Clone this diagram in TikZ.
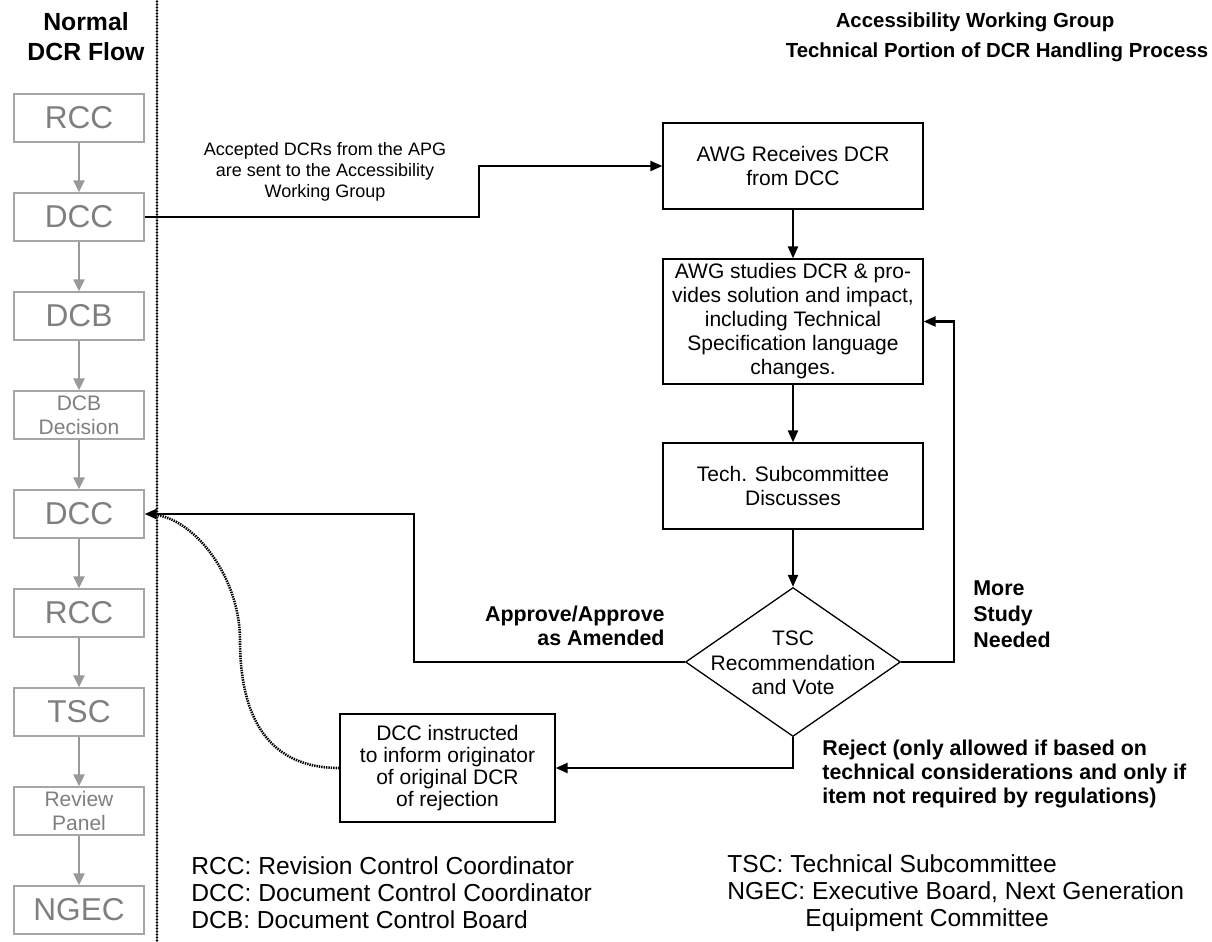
\documentclass[tikz,border=0pt]{standalone}
\usepackage{fontspec}
\setmainfont{Liberation Sans}
\usetikzlibrary{arrows.meta,shapes.geometric}
\definecolor{boxgray}{HTML}{A6A6A6}
\definecolor{textgray}{HTML}{7F7F7F}
\definecolor{arrgray}{HTML}{999999}
\begin{document}
\begin{tikzpicture}[x=0.5pt,y=-0.5pt,
 gbox/.style={draw=boxgray, line width=0.65pt, minimum width=65pt, minimum height=24pt, inner sep=0pt, text=textgray, font=\fontsize{15.8}{17}\selectfont},
 gsmall/.style={gbox, font=\fontsize{10.5}{12}\selectfont, align=center},
 garrow/.style={draw=arrgray, line width=1.1pt, -{Triangle[length=6pt,width=5.5pt]}},
 box/.style={draw, line width=0.65pt, inner sep=0pt, align=center, font=\fontsize{10.5}{12}\selectfont},
 arr/.style={line width=1.1pt, -{Triangle[length=6pt,width=5pt]}},
 lbl/.style={font=\bfseries\fontsize{10.7}{11.8}\selectfont, inner sep=0pt},
 plain/.style={inner sep=0pt},
 sepdot/.style={fill=black},
 finedots/.style={line width=1.3pt, dash pattern=on 0.7pt off 0.5pt},
]
\useasboundingbox (0,0) rectangle (1212,942);

% separator (row of round dots)
\coordinate (dtop) at (157,0);
\foreach \i in {0,...,313} {\fill[sepdot] (157,{1.5+\i*3}) circle[radius=0.72pt];}

% headers
\node[plain, font=\bfseries\fontsize{12.4}{15}\selectfont, align=center] (hl) at (86,37) {Normal\\DCR Flow};
\node[plain, font=\bfseries\fontsize{10.2}{15}\selectfont] (hr1) at (975,22) {Accessibility Working Group};
\node[plain, font=\bfseries\fontsize{10.2}{15}\selectfont] (hr2) at (997,52) {Technical Portion of DCR Handling Process};

% normal flow column
\node[gbox] (g1) at (79,118) {RCC};
\node[gbox] (g2) at (79,217) {DCC};
\node[gbox] (g3) at (79,316) {DCB};
\node[gsmall] (g4) at (79,415) {DCB\\Decision};
\node[gbox] (g5) at (79,514) {DCC};
\node[gbox] (g6) at (79,613) {RCC};
\node[gbox] (g7) at (79,712) {TSC};
\node[gsmall] (g8) at (79,811) {Review\\Panel};
\node[gbox] (g9) at (79,910) {NGEC};
\foreach \a/\b in {g1/g2,g2/g3,g3/g4,g4/g5,g5/g6,g6/g7,g7/g8,g8/g9}
  \draw[garrow] (\a) -- (\b);

% AWG process
\node[box, minimum width=130pt, minimum height=43pt] (recv) at (793,166) {AWG Receives DCR\\from DCC};
\node[box, minimum width=130pt, minimum height=62.5pt] (study) at (793,321.5) {AWG studies DCR \& pro-\\vides solution and impact,\\including Technical\\Specification language\\changes.};
\node[box, minimum width=130pt, minimum height=43pt] (tech) at (793,486) {Tech. Subcommittee\\Discusses};
\node[draw, diamond, line width=0.65pt, minimum width=107.5pt, minimum height=74.5pt, inner sep=0pt] (tsc) at (793,662) {};
\node[plain, font=\fontsize{10.5}{12.3}\selectfont, align=center] (tsct) at (793,663) {TSC\\Recommendation\\and Vote};
\node[box, minimum width=107.5pt, minimum height=54pt, font=\fontsize{10.5}{11}\selectfont] (rej) at (447.5,768) {DCC instructed\\to inform originator\\of original DCR\\of rejection};

% labels
\node[plain, font=\fontsize{9}{10.5}\selectfont, align=center] (acc) at (325,172) {Accepted DCRs from the APG\\are sent to the Accessibility\\Working Group};
\node[lbl, align=right, anchor=east] (appr) at (665,626) {Approve/Approve\\as Amended};
\node[lbl, align=left, anchor=west, font=\bfseries\fontsize{10.7}{13}\selectfont] (more) at (973,614) {More\\Study\\Needed};
\node[lbl, align=left, anchor=west] (rjl) at (822,774) {Reject (only allowed if based on\\technical considerations and only if\\item not required by regulations)};

% connectors
\coordinate (j1) at (479,217);
\draw[arr] (g2.east) -- (j1) |- (recv.west);
\draw[arr] (recv) -- (study);
\draw[arr] (study) -- (tech);
\draw[arr] (tech) -- (tsc.north);
\coordinate (j2) at (414,662);
\draw[arr] (tsc.west) -- (j2) |- (g5.east);
\coordinate (j3) at (954,662);
\draw[arr] (tsc.east) -- (j3) |- (study.east);
\draw[arr] (tsc.south) |- (rej.east);
\coordinate (tip) at (157,515);
\coordinate (cmid) at (240,640);
\draw[finedots] (rej.west) .. controls (270,768) and (240,720) .. (cmid) .. controls (240,580) and (198,522) .. (tip);

% legend
\node[plain, font=\fontsize{12.3}{13.5}\selectfont, align=left, anchor=west] (leg1) at (191,893) {RCC: Revision Control Coordinator\\DCC: Document Control Coordinator\\DCB: Document Control Board};
\node[plain, font=\fontsize{12.3}{13.5}\selectfont, align=left, anchor=west] (leg2) at (727,893) {TSC: Technical Subcommittee\\NGEC: Executive Board, Next Generation\\\hspace*{39pt}Equipment Committee};
\end{tikzpicture}
\end{document}
